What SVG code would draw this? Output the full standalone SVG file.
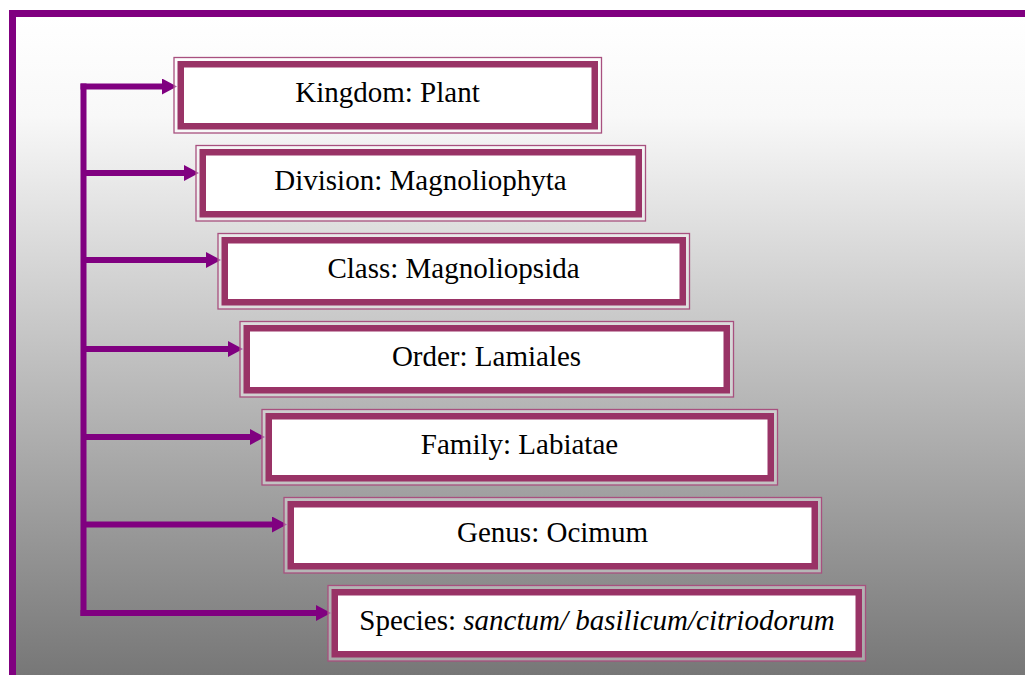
<svg xmlns="http://www.w3.org/2000/svg" width="1025" height="675" viewBox="0 0 1025 675">
<defs>
<linearGradient id="bg" gradientUnits="userSpaceOnUse" x1="0" y1="17" x2="0" y2="675">
<stop offset="0" stop-color="#ffffff"/>
<stop offset="0.15" stop-color="#f8f8f8"/>
<stop offset="1" stop-color="#777777"/>
</linearGradient>
<marker id="ah" markerUnits="userSpaceOnUse" markerWidth="16" markerHeight="16" refX="1" refY="8" orient="auto" viewBox="0 0 16 16">
<path d="M0,0 L15,8 L0,16 Z" fill="#800080"/>
</marker>
</defs>
<style>
.outer{fill:#ffffff;fill-opacity:0.35;stroke:#a8507f;stroke-width:1.3}
.thick{fill:#ffffff;stroke:#993366;stroke-width:6.5}
.conn{fill:none;stroke:#800080;stroke-width:6}
</style>
<rect x="0" y="0" width="1025" height="675" fill="#ffffff"/>
<rect id="frame" x="12.5" y="13.5" width="1030" height="680" fill="url(#bg)" stroke="#800080" stroke-width="7"/>
<g id="connectors">
<path class="conn" d="M83.5,613 V86.5" stroke-linecap="square"/>
<line class="conn" x1="80.5" y1="86.5" x2="163" y2="86.5" marker-end="url(#ah)"/>
<line class="conn" x1="83.5" y1="173" x2="185" y2="173" marker-end="url(#ah)"/>
<line class="conn" x1="83.5" y1="260" x2="207" y2="260" marker-end="url(#ah)"/>
<line class="conn" x1="83.5" y1="349" x2="229" y2="349" marker-end="url(#ah)"/>
<line class="conn" x1="83.5" y1="437" x2="251" y2="437" marker-end="url(#ah)"/>
<line class="conn" x1="83.5" y1="524.5" x2="273" y2="524.5" marker-end="url(#ah)"/>
<line class="conn" x1="80.5" y1="613" x2="317" y2="613" marker-end="url(#ah)"/>
</g>
<g font-size="29" fill="#000000" text-anchor="middle" font-family="'Liberation Serif'">
<g id="kingdom">
<rect class="outer" x="174" y="57.5" width="427.5" height="75.5"/>
<rect class="thick" x="180.75" y="64.25" width="414" height="62"/>
<text x="387.5" y="102" font-family="'Liberation Serif'">Kingdom: Plant</text>
</g>
<g id="division">
<rect class="outer" x="196" y="145.5" width="449.5" height="75.5"/>
<rect class="thick" x="202.75" y="152.25" width="436" height="62"/>
<text x="420.5" y="190" font-family="'Liberation Serif'">Division: Magnoliophyta</text>
</g>
<g id="class">
<rect class="outer" x="218" y="233.5" width="471.5" height="75.5"/>
<rect class="thick" x="224.75" y="240.25" width="458" height="62"/>
<text x="453.5" y="278" font-family="'Liberation Serif'">Class: Magnoliopsida</text>
</g>
<g id="order">
<rect class="outer" x="240" y="321.5" width="493.5" height="75.5"/>
<rect class="thick" x="246.75" y="328.25" width="480" height="62"/>
<text x="486.5" y="366" font-family="'Liberation Serif'">Order: Lamiales</text>
</g>
<g id="family">
<rect class="outer" x="262" y="409.5" width="515.5" height="75.5"/>
<rect class="thick" x="268.75" y="416.25" width="502" height="62"/>
<text x="519.5" y="454" font-family="'Liberation Serif'">Family: Labiatae</text>
</g>
<g id="genus">
<rect class="outer" x="284" y="497.5" width="537.5" height="75.5"/>
<rect class="thick" x="290.75" y="504.25" width="524" height="62"/>
<text x="552.5" y="542" font-family="'Liberation Serif'">Genus: Ocimum</text>
</g>
<g id="species">
<rect class="outer" x="328" y="585.5" width="537.5" height="75.5"/>
<rect class="thick" x="334.75" y="592.25" width="524" height="62"/>
<text x="597" y="630" font-family="'Liberation Serif'">Species: <tspan font-style="italic" font-family="'Liberation Serif'">sanctum/ basilicum/citriodorum</tspan></text>
</g>
</g>
</svg>
